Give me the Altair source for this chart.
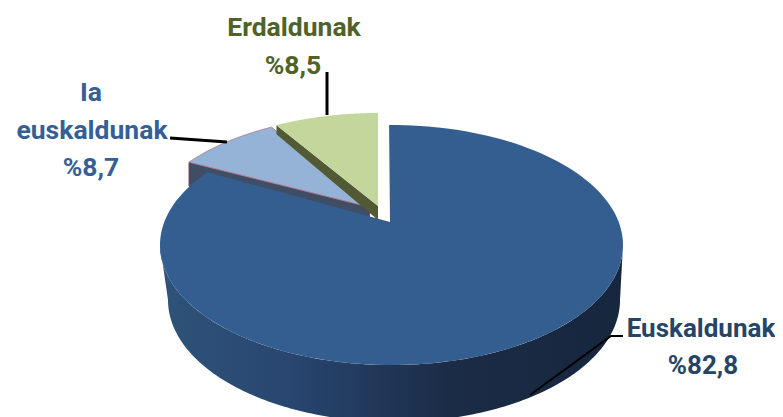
import math
import altair as alt
import pandas as pd

# ---- data ----
categories = ["Euskaldunak", "Ia euskaldunak", "Erdaldunak"]
shares = [82.8, 8.7, 8.5]
share_labels = ["%82,8", "%8,7", "%8,5"]

# ---- layout of the drawn pie (3D projection parameters) ----
TOP = dict(cx=391.5, cy=245, rx=231.5, ry=120)
BOTTOM = dict(cx=394, cy=300, rx=226, ry=122)
K = 0.85  # perspective compression of the far side of the pie
a_green = shares[2] * 3.6 * K
a_blue = a_green + shares[1] * 3.6 * K
OFF_BLUE = (-18.5, -10)
OFF_GREEN = (-13.5, -12)
FONT = "Roboto"


def ell(e, deg, dx=0, dy=0):
    t = math.radians(deg)
    return (e["cx"] + dx + e["rx"] * math.sin(t), e["cy"] + dy - e["ry"] * math.cos(t))


def arc(e, a0, a1, dx=0, dy=0, n=160):
    return [ell(e, a0 + (a1 - a0) * i / n, dx, dy) for i in range(n + 1)]


X = alt.Scale(domain=[8, 775], range=[0, 767])
Y = alt.Scale(domain=[8, 417], range=[0, 409])


def shape(points, fill, stroke=None, width=0):
    df = pd.DataFrame({"x": [p[0] for p in points], "y": [p[1] for p in points], "i": range(len(points))})
    kw = dict(fill=fill, clip=True, interpolate="linear-closed")
    if stroke:
        kw.update(stroke=stroke, strokeWidth=width)
    else:
        kw.update(strokeWidth=0, strokeOpacity=0)
    return alt.Chart(df).mark_line(**kw).encode(
        x=alt.X("x:Q", scale=X, axis=None),
        y=alt.Y("y:Q", scale=Y, axis=None),
        order="i:Q",
    )


def leader(points, width):
    df = pd.DataFrame({"x": [p[0] for p in points], "y": [p[1] for p in points], "i": range(len(points))})
    return alt.Chart(df).mark_line(stroke="black", strokeWidth=width).encode(
        x=alt.X("x:Q", scale=X, axis=None),
        y=alt.Y("y:Q", scale=Y, axis=None),
        order="i:Q",
    )


def label(lines, color, size=26.5):
    df = pd.DataFrame([{"t": t, "x": x, "y": y} for t, x, y in lines])
    return alt.Chart(df).mark_text(
        font=FONT, fontWeight="bold", fontSize=size, color=color, align="center", baseline="alphabetic"
    ).encode(
        x=alt.X("x:Q", scale=X, axis=None),
        y=alt.Y("y:Q", scale=Y, axis=None),
        text="t:N",
    )


wall_gradient = alt.Gradient(
    gradient="linear", x1=0, y1=0, x2=1, y2=0,
    stops=[
        alt.GradientStop(color="#2f5379", offset=0),
        alt.GradientStop(color="#284670", offset=0.28),
        alt.GradientStop(color="#1b2c47", offset=0.62),
        alt.GradientStop(color="#16263d", offset=1),
    ],
)

main_wall = arc(TOP, 90, 270) + arc(BOTTOM, 270, 90)
main_apex = (TOP["cx"] - 1.5, TOP["cy"] - 23)
main_top = [main_apex] + arc(TOP, -0.6, 360 - a_blue)

blue_dx, blue_dy = OFF_BLUE
blue_apex = (TOP["cx"] - 22, TOP["cy"] - 38)
blue_arc = arc(TOP, 360 - a_green, 360 - a_blue, blue_dx, blue_dy)
blue_top = [blue_apex] + blue_arc
bl = blue_arc[-1]
blue_wall = [bl, (bl[0], bl[1] + 24), (blue_apex[0], blue_apex[1] + 14), blue_apex]

green_dx, green_dy = OFF_GREEN
green_apex = (TOP["cx"] - 13.5, TOP["cy"] - 39)
green_arc = arc(TOP, 360 - 0.0, 360 - a_green, green_dx, green_dy)
green_top = [green_apex] + green_arc
gl = green_arc[-1]
green_wall = [gl, (gl[0], gl[1] + 9), (green_apex[0], green_apex[1] + 14), green_apex]

chart = alt.layer(
    shape(main_wall, wall_gradient),
    shape(blue_wall, "#3f4e65", "#7a4a5c", 1),
    shape(main_top, "#355e90"),
    shape(blue_top, "#95b3d7", "#a97f92", 1),
    shape(green_wall, "#515a35"),
    shape(green_top, "#c3d69b"),
    leader([(327, 72), (327, 115)], 3),
    leader([(170, 138), (227, 142)], 3),
    leader([(623, 336), (611, 336), (530, 395)], 2),
    label([(categories[0], 701, 337), (share_labels[0], 703, 374)], "#264467", 26),
    label([("Ia", 91, 101), ("euskaldunak", 92, 139), (share_labels[1], 91, 176)], "#355f95"),
    label([(categories[2], 294, 36), (share_labels[2], 293, 74)], "#4f6228"),
).properties(
    width=767, height=409, padding=0, autosize=alt.AutoSizeParams(type="none"),
    background="white",
).configure_view(stroke=None)

chart.save("out.html", embed_options={"renderer": "svg", "actions": False})
